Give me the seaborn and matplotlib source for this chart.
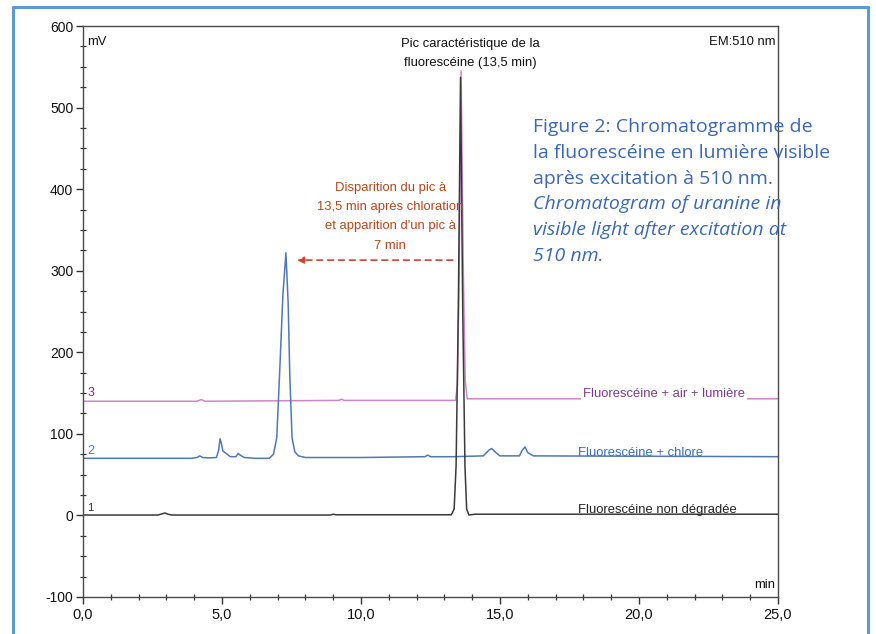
import numpy as np
import pandas as pd
import seaborn as sns
import matplotlib
matplotlib.use("Agg")
import matplotlib.pyplot as plt
from matplotlib.lines import Line2D
from matplotlib.ticker import MultipleLocator, FixedLocator, FuncFormatter

sns.set_theme(style="white")
plt.rcParams['font.family'] = ['Liberation Sans', 'DejaVu Sans']

# ---------------- data ----------------
# Trace 1: Fluorescéine non dégradée (black)
t_nondeg = [0.0, 2.7, 2.85, 2.95, 3.05, 3.2, 8.9, 9.0, 9.1, 13.25, 13.35, 13.42, 13.5,
            13.58, 13.66, 13.74, 13.8, 13.88, 14.1, 25.0]
mv_nondeg = [0.5, 0.5, 2.0, 3.0, 1.5, 0.5, 0.5, 1.5, 0.8, 0.8, 8, 60, 250,
             537, 250, 60, 8, 0.5, 1.5, 1.5]

# Trace 2: Fluorescéine + chlore (blue)
t_chlore = [0.0, 3.9, 4.1, 4.2, 4.3, 4.5, 4.8, 4.88, 4.93, 4.98, 5.03, 5.15, 5.3, 5.5,
            5.58, 5.65, 5.8, 6.2, 6.7, 6.85, 6.97, 7.08, 7.19, 7.3, 7.38, 7.44, 7.52,
            7.62, 7.75, 8.0, 10.0, 12.3, 12.4, 12.5, 13.3, 14.4, 14.6, 14.7, 14.85,
            15.0, 15.7, 15.8, 15.9, 16.0, 16.2, 25.0]
mv_chlore = [70, 70, 71, 73, 71, 70.5, 71, 80, 94, 88, 79, 76, 72, 72,
             76, 74, 71, 70, 70, 75, 95, 180, 270, 322, 260, 170, 95,
             78, 73, 71, 71, 72, 74, 72, 72, 73, 80, 82, 77,
             73, 73, 80, 84, 77, 73, 72]

# Trace 3: Fluorescéine + air + lumière (pink)
t_air = [0.0, 4.1, 4.25, 4.4, 9.2, 9.3, 9.4, 13.4, 13.47, 13.53, 13.6, 13.68, 13.75,
         13.82, 13.9, 25.0]
mv_air = [140, 140, 142, 140, 141, 142.5, 141, 141, 160, 300, 545, 300, 165,
          143, 143, 143]

trace_names = ["Fluorescéine + air + lumière", "Fluorescéine + chlore",
               "Fluorescéine non dégradée"]
trace_colors = ["#cf86c9", "#4f78b5", "#3a3a3a"]

y_ticks = [-100, 0, 100, 200, 300, 400, 500, 600]
x_ticks = [0, 5, 10, 15, 20, 25]

df = pd.concat([
    pd.DataFrame({"t": t_air, "mv": mv_air, "trace": trace_names[0]}),
    pd.DataFrame({"t": t_chlore, "mv": mv_chlore, "trace": trace_names[1]}),
    pd.DataFrame({"t": t_nondeg, "mv": mv_nondeg, "trace": trace_names[2]}),
], ignore_index=True)

# ---------------- figure ----------------
W, H = 876, 634
fig = plt.figure(figsize=(W / 100, H / 100), dpi=100)
fig.patch.set_facecolor("white")
ax = fig.add_axes([83 / W, 1 - 597 / H, (778 - 83) / W, (597 - 26) / H])

sns.lineplot(data=df, x="t", y="mv", hue="trace", hue_order=trace_names,
             palette=dict(zip(trace_names, trace_colors)), sort=False,
             estimator=None, legend=False, linewidth=1.1, ax=ax)

ax.set_xlim(0, 25)
ax.set_ylim(-100, 600)
ax.set_xlabel("")
ax.set_ylabel("")
for s in ax.spines.values():
    s.set_visible(True)
    s.set_color("#4a4a4a")
    s.set_linewidth(1.0)

ax.yaxis.set_major_locator(FixedLocator(y_ticks))
ax.yaxis.set_minor_locator(MultipleLocator(25))
ax.xaxis.set_major_locator(FixedLocator(x_ticks))
ax.xaxis.set_minor_locator(MultipleLocator(1))
ax.xaxis.set_major_formatter(FuncFormatter(lambda v, p: f"{v:.1f}".replace(".", ",")))
ax.yaxis.set_major_formatter(FuncFormatter(lambda v, p: f"{int(v)}"))
ax.tick_params(which="major", direction="out", length=5, width=1, color="#333333",
               labelsize=10, labelcolor="#111111", left=True, bottom=True, pad=2)
ax.tick_params(which="minor", direction="inout", length=4, width=0.9, color="#333333",
               left=True, bottom=True)
ax.tick_params(axis="x", which="major", labelsize=10.5, pad=3)

fs = 9.4
ax.text(0.15, 588, "mV", fontsize=fs, va="top", ha="left", color="#111")
ax.text(24.9, 588, "EM:510 nm", fontsize=fs, va="top", ha="right", color="#111")
ax.text(24.9, -93, "min", fontsize=fs, va="bottom", ha="right", color="#111")

ax.text(0.15, 3, "1", fontsize=8, va="bottom", ha="left", color="#333")
ax.text(0.15, 72, "2", fontsize=9, va="bottom", ha="left", color="#4f78b5")
ax.text(0.15, 143, "3", fontsize=9, va="bottom", ha="left", color="#6a3a6a")

ax.text(13.95, 566, "Pic caractéristique de la\nfluorescéine (13,5 min)", fontsize=fs,
        ha="center", va="center", color="#111", linespacing=1.75)

ax.text(11.05, 366, "Disparition du pic à\n13,5 min après chloration\net apparition d'un pic à\n7 min",
        fontsize=fs, ha="center", va="center", color="#b5461c", linespacing=1.8)
ax.annotate("", xy=(7.6, 313), xytext=(13.4, 313),
            arrowprops=dict(arrowstyle="-|>", linestyle=(0, (3.5, 3)), color="#cc4530",
                            lw=1.2, mutation_scale=10))

ax.text(18.0, 145, trace_names[0], fontsize=fs, ha="left",
        va="baseline", color="#7b3a8e",
        bbox=dict(facecolor="white", edgecolor="none", pad=1.5))
ax.text(17.8, 73, trace_names[1], fontsize=fs, ha="left",
        va="baseline", color="#3d6db5")
ax.text(17.8, 3.5, trace_names[2], fontsize=fs, ha="left",
        va="baseline", color="#222")

# caption
cap_lines = [("Figure 2: Chromatogramme de", "normal"),
             ("la fluorescéine en lumière visible", "normal"),
             ("après excitation à 510 nm.", "normal"),
             ("Chromatogram of uranine in", "italic"),
             ("visible light after excitation at", "italic"),
             ("510 nm.", "italic")]
for i, (txt, st) in enumerate(cap_lines):
    fig.text(533 / W, 1 - (127 + 25.8 * i) / H, txt, fontsize=14, style=st,
             family=['Open Sans', 'DejaVu Sans'], color="#3c68b0", ha="left", va="center")

# page border (blue frame of the scanned page)
bc = "#5b9bd5"
fig.add_artist(Line2D([13 / W, 13 / W], [0, 1 - 7 / H], color=bc, lw=2.2, transform=fig.transFigure))
fig.add_artist(Line2D([13 / W, 868 / W], [1 - 7 / H, 1 - 7 / H], color=bc, lw=2.2, transform=fig.transFigure))
fig.add_artist(Line2D([868 / W, 868 / W], [0, 1 - 7 / H], color=bc, lw=2.2, transform=fig.transFigure))

fig.savefig("out.png", dpi=100)
